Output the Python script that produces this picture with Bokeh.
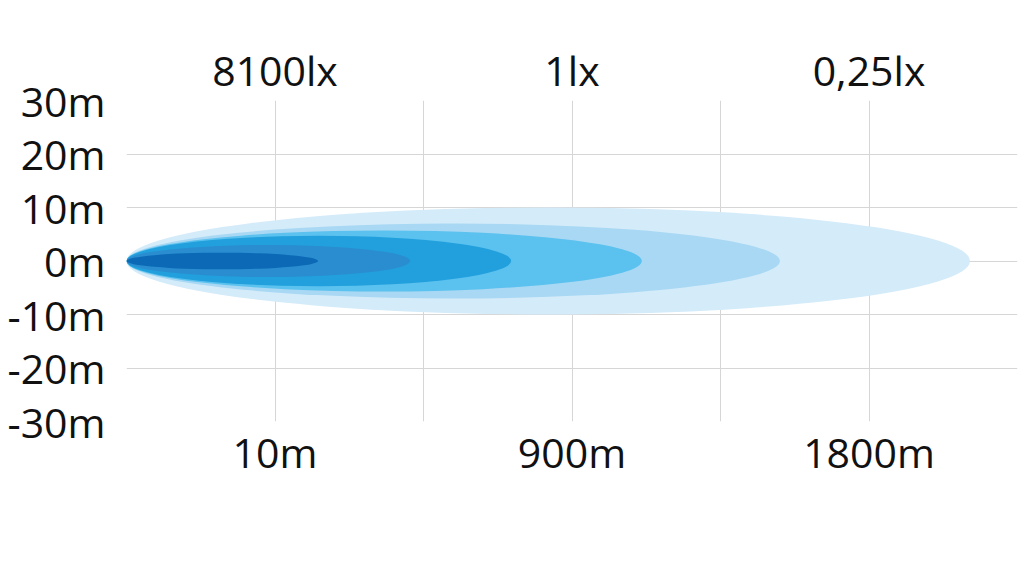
from bokeh.plotting import figure
from bokeh.models import Range1d, FixedTicker, LinearAxis, ColumnDataSource
from bokeh.embed import file_html
from bokeh.resources import INLINE

# ---- data ----
x_grid_ticks = [0, 1, 2, 3, 4, 5, 6]          # schematic distance grid
label_ticks = [1, 3, 5]
distance_labels = ["10m", "900m", "1800m"]
lux_labels = ["8100lx", "1lx", "0,25lx"]
y_ticks = [-30, -20, -10, 0, 10, 20, 30]
y_labels = ["-30m", "-20m", "-10m", "0m", "10m", "20m", "30m"]

# beam layers, outermost first
beam_reach = [5.68, 4.40, 3.47, 2.59, 1.91, 1.29]     # in grid units
beam_half_width = [10.0, 7.0, 5.7, 4.7, 3.0, 1.55]    # metres
beam_colors = ["#d4ebf9", "#a8d8f3", "#5bc1ee", "#21a0dd", "#2a8dd0", "#0b69b5"]

FONT = "Open Sans"
FS = "41px"

p = figure(width=1024, height=562, output_backend="svg", toolbar_location=None,
           x_range=Range1d(0, 6), y_range=Range1d(-30, 30),
           min_border_left=126, min_border_right=7, min_border_top=100,
           min_border_bottom=141, x_axis_location="below")
p.outline_line_color = None
p.background_fill_color = "white"
p.border_fill_color = "white"

src = ColumnDataSource(dict(
    x=[r / 2 for r in beam_reach],
    y=[0] * len(beam_reach),
    w=beam_reach,
    h=[2 * hw for hw in beam_half_width],
    c=beam_colors,
))
p.ellipse(x="x", y="y", width="w", height="h", fill_color="c",
          line_color=None, source=src)

# grids
p.xgrid.ticker = FixedTicker(ticks=x_grid_ticks)
p.ygrid.ticker = FixedTicker(ticks=y_ticks)
for g in (p.xgrid, p.ygrid):
    g.grid_line_color = "#d6d6d6"
    g.grid_line_width = 1

def style_axis(ax, standoff):
    ax.axis_line_color = None
    ax.major_tick_line_color = None
    ax.minor_tick_line_color = None
    ax.major_tick_out = 0
    ax.major_tick_in = 0
    ax.major_label_text_font = FONT
    ax.major_label_text_font_size = FS
    ax.major_label_text_color = "#111111"
    ax.major_label_standoff = standoff

xa = p.xaxis[0]
xa.ticker = FixedTicker(ticks=label_ticks)
xa.major_label_overrides = {t: l for t, l in zip(label_ticks, distance_labels)}
style_axis(xa, 2)

ya = p.yaxis[0]
ya.ticker = FixedTicker(ticks=y_ticks)
ya.major_label_overrides = {t: l for t, l in zip(y_ticks, y_labels)}
style_axis(ya, 21)

top = LinearAxis(ticker=FixedTicker(ticks=label_ticks),
                 major_label_overrides={t: l for t, l in zip(label_ticks, lux_labels)})
style_axis(top, 3)
p.add_layout(top, "above")

open("out.html", "w").write(file_html(p, INLINE))
